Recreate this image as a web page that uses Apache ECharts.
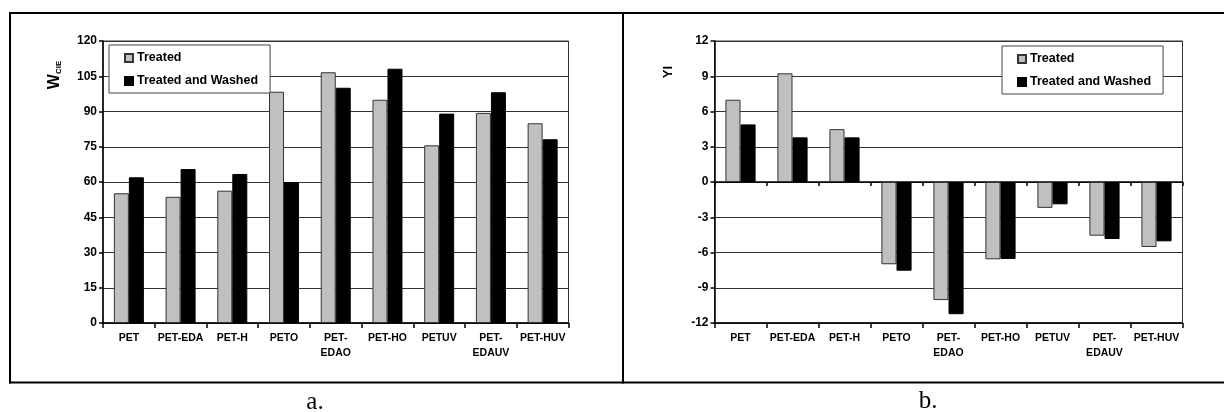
<!DOCTYPE html>
<html>
<head>
<meta charset="utf-8">
<script src="https://cdn.jsdelivr.net/npm/echarts@6/dist/echarts.min.js"></script>
<style>
html,body{margin:0;padding:0;background:#fff;}
#c{width:1224px;height:412px;}
</style>
</head>
<body>
<div id="c"></div>
<script>
var categories = ['PET','PET-EDA','PET-H','PETO','PET-EDAO','PET-HO','PETUV','PET-EDAUV','PET-HUV'];
var seriesNames = ['Treated','Treated and Washed'];
var wcieTreated = [55.2, 53.7, 56.3, 98.4, 106.7, 95.0, 75.6, 89.4, 85.0];
var wcieWashed  = [62.0, 65.5, 63.4, 60.0, 100.1, 108.2, 89.1, 98.2, 78.2];
var yiTreated = [7.0, 9.25, 4.5, -7.0, -10.05, -6.58, -2.2, -4.57, -5.53];
var yiWashed  = [4.9, 3.8, 3.8, -7.55, -11.25, -6.55, -1.9, -4.85, -5.05];
var wcieTicks = {min: 0, max: 120, interval: 15};
var yiTicks = {min: -12, max: 12, interval: 3};

var FONT = 'Liberation Sans, Arial, sans-serif';
var grayStyle = {color: '#c0c0c0', borderColor: '#333', borderWidth: 1};
var blackStyle = {color: '#000', borderColor: '#000', borderWidth: 1};

function catFmt(v){ return v.length > 7 ? v.replace('-', '-\n') : v; }

function yAxis(idx, t){
  return {
    type: 'value', gridIndex: idx, min: t.min, max: t.max, interval: t.interval,
    axisLine: {show: true, lineStyle: {color: '#000', width: 1.5}},
    axisTick: {show: true, length: 4, lineStyle: {color: '#000', width: 1.5}},
    axisLabel: {color: '#000', fontWeight: 'bold', fontSize: 12, fontFamily: FONT, margin: 6},
    splitLine: {show: true, lineStyle: {color: '#333', width: 1}}
  };
}
function xAxis(idx){
  return {
    type: 'category', gridIndex: idx, data: categories,
    axisLine: {show: true, onZero: false, lineStyle: {color: '#000', width: 1.5}},
    axisTick: {show: true, length: 5, interval: 0, lineStyle: {color: '#000', width: 1.5}},
    axisLabel: {color: '#000', fontWeight: 'bold', fontSize: 10.5, fontFamily: FONT, margin: 8,
                interval: 0, lineHeight: 15, formatter: catFmt}
  };
}
function legend(left, top){
  return {
    data: seriesNames, orient: 'vertical', left: left, top: top,
    backgroundColor: '#fff', borderColor: '#444', borderWidth: 1,
    padding: [6, 12, 5, 15], itemWidth: 8, itemHeight: 8, itemGap: 9,
    icon: 'rect', selectedMode: false,
    textStyle: {color: '#000', fontWeight: 'bold', fontSize: 12.5, fontFamily: FONT, lineHeight: 14, padding: [0,0,0,-1]}
  };
}
function bar(name, x, y, data, style){
  return {name: name, type: 'bar', xAxisIndex: x, yAxisIndex: y, data: data,
          barGap: '0%', barCategoryGap: '42%', itemStyle: style, silent: true};
}

var xb = xAxis(1);
var xbZero = {
  type: 'category', gridIndex: 1, data: categories, position: 'bottom',
  axisLine: {show: true, onZero: true, lineStyle: {color: '#000', width: 1.5}},
  axisTick: {show: true, length: 4, interval: 0, lineStyle: {color: '#000', width: 1.5}},
  axisLabel: {show: false}
};

var option = {
  animation: false,
  grid: [
    {left: 103, width: 465.5, top: 41, height: 282, show: true, borderColor: '#333', borderWidth: 1, backgroundColor: 'transparent'},
    {left: 714.5, width: 468, top: 41, height: 282, show: true, borderColor: '#333', borderWidth: 1, backgroundColor: 'transparent'}
  ],
  xAxis: [xAxis(0), xb, xbZero],
  yAxis: [yAxis(0, wcieTicks), yAxis(1, yiTicks)],
  legend: [legend(109, 45), legend(1002, 46)],
  series: [
    bar(seriesNames[0], 0, 0, wcieTreated, grayStyle),
    bar(seriesNames[1], 0, 0, wcieWashed, blackStyle),
    bar(seriesNames[0], 1, 1, yiTreated, grayStyle),
    bar(seriesNames[1], 1, 1, yiWashed, blackStyle)
  ],
  graphic: [
    {type: 'line', shape: {x1: 9, y1: 13, x2: 1224, y2: 13}, style: {stroke: '#000', lineWidth: 2}, silent: true},
    {type: 'line', shape: {x1: 9, y1: 382.5, x2: 1224, y2: 382.5}, style: {stroke: '#000', lineWidth: 2}, silent: true},
    {type: 'line', shape: {x1: 10, y1: 12, x2: 10, y2: 383.5}, style: {stroke: '#000', lineWidth: 2}, silent: true},
    {type: 'line', shape: {x1: 623, y1: 12, x2: 623, y2: 383.5}, style: {stroke: '#000', lineWidth: 2}, silent: true},
    {type: 'text', x: 55, y: 75, rotation: Math.PI / 2,
     style: {text: '{a|W}{b|CIE}', align: 'center', verticalAlign: 'middle',
             rich: {a: {fontSize: 16, fontWeight: 'bold', fontFamily: FONT, fill: '#000', verticalAlign: 'bottom'},
                    b: {fontSize: 8, fontWeight: 'bold', fontFamily: FONT, fill: '#000', verticalAlign: 'bottom', padding: [0,0,0,0]}}}},
    {type: 'text', x: 668, y: 72, rotation: Math.PI / 2,
     style: {text: 'YI', align: 'center', verticalAlign: 'middle', fontSize: 13, fontWeight: 'bold', fontFamily: FONT, fill: '#000'}},
    {type: 'text', x: 315, y: 402, style: {text: 'a.', align: 'center', verticalAlign: 'middle', fontSize: 25, fontFamily: 'Liberation Serif, Times New Roman, serif', fill: '#000'}},
    {type: 'text', x: 928, y: 401, style: {text: 'b.', align: 'center', verticalAlign: 'middle', fontSize: 25, fontFamily: 'Liberation Serif, Times New Roman, serif', fill: '#000'}}
  ]
};
var chart = echarts.init(document.getElementById('c'), null, {renderer: 'canvas'});
chart.setOption(option);
</script>
</body>
</html>
